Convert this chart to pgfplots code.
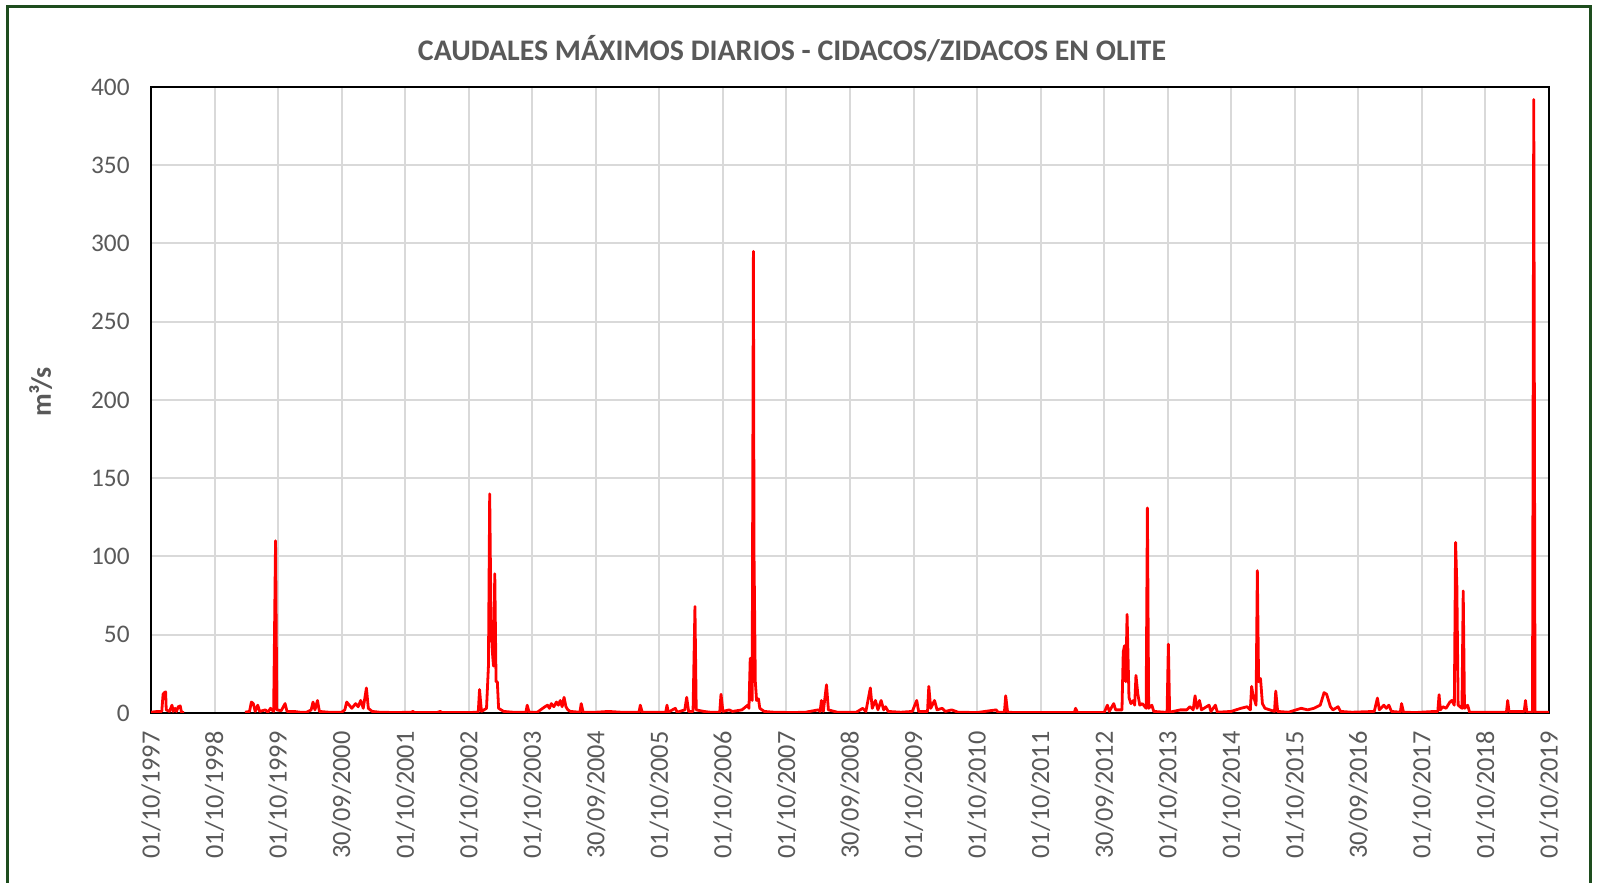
\documentclass[border=0pt]{standalone}
\usepackage{fontspec}
\setmainfont{Carlito}
\usepackage{pgfplots}
\pgfplotsset{compat=1.18}
\definecolor{txtgray}{HTML}{595959}
\definecolor{gridgray}{HTML}{D9D9D9}
\definecolor{framegreen}{HTML}{1E4D1E}
\begin{document}
\begin{tikzpicture}
\path[use as bounding box] (0,0) rectangle (800bp,441.5bp);
\draw[framegreen, line width=1.5bp] (3.8bp,-20bp) rectangle (795.2bp,438bp);
\node[font=\fontsize{15}{17}\selectfont\bfseries, text=txtgray] at (396bp,417bp) {CAUDALES MÁXIMOS DIARIOS - CIDACOS/ZIDACOS EN OLITE};
\begin{axis}[at={(75.5bp,85bp)}, anchor=south west, scale only axis,
  width=699bp, height=313bp,
  xmin=0, xmax=22, ymin=0, ymax=400,
  xtick={0,...,22}, ytick={0,50,...,400},
  xticklabels={01/10/1997,01/10/1998,01/10/1999,30/09/2000,01/10/2001,01/10/2002,01/10/2003,30/09/2004,01/10/2005,01/10/2006,01/10/2007,30/09/2008,01/10/2009,01/10/2010,01/10/2011,30/09/2012,01/10/2013,01/10/2014,01/10/2015,30/09/2016,01/10/2017,01/10/2018,01/10/2019},
  grid=major, major grid style={gridgray, line width=1bp},
  major tick length=0pt, tick style={draw=none},
  axis line style={black, line width=1bp},
  /pgf/number format/assume math mode=true,
  ticklabel style={font=\fontsize{12.7}{14}\selectfont, text=txtgray},
  xticklabel style={rotate=90, anchor=east, inner sep=0pt, font=\fontsize{13.2}{15}\selectfont},
  yticklabel style={anchor=east, inner sep=0pt},
  xticklabel shift=9bp, yticklabel shift=10.5bp,
  ylabel={m³/s},
  ylabel style={font=\fontsize{14}{16}\selectfont\bfseries, text=txtgray, at={(axis description cs:-0.079,0.513)}, anchor=center, rotate=0},
]
\addplot[red, line width=1.4bp, line join=round] coordinates {
(0.00,0.5)(0.10,1)(0.17,1)(0.19,12)(0.21,13)(0.23,13.5)(0.24,2)(0.29,1)(0.33,5)(0.35,1)(0.38,3)(0.40,1)(0.43,4)(0.46,4.5)(0.48,0.5)(0.52,0.3)
};
\addplot[red, line width=1.4bp, line join=round] coordinates {
(1.48,0.5)(1.55,1)(1.58,7)(1.61,6)(1.64,1)(1.68,5)(1.71,1)(1.80,2)(1.84,0.5)(1.88,3)(1.93,1)(1.96,110)(1.98,2)(2.05,1.5)(2.11,6)(2.14,1)(2.25,1)(2.35,0.5)(2.45,0.5)(2.52,2)(2.55,7)(2.58,2)(2.62,8)(2.65,1)(2.80,0.5)(3.00,0.5)(3.05,2)(3.08,7)(3.12,5)(3.16,3)(3.22,6)(3.26,4)(3.30,8)(3.34,3)(3.39,16)(3.42,3)(3.48,1)(3.60,0.5)(3.85,0.3)(4.10,0.5)(4.12,1)(4.15,0.3)(4.50,0.3)(4.55,1)(4.58,0.3)(5.00,0.3)
(5.15,0.5)(5.17,15)(5.20,1)(5.28,3)(5.31,30)(5.33,140)(5.35,60)(5.37,40)(5.39,30)(5.41,89)(5.43,20)(5.45,20)(5.47,3)(5.55,1)(5.70,0.5)(5.90,0.5)(5.92,5)(5.95,0.5)(6.08,0.5)(6.13,2)(6.20,4)(6.24,5)(6.27,3)(6.30,6)(6.34,4)(6.38,7)(6.41,5)(6.44,8)(6.47,4)(6.50,10)(6.53,4)(6.56,2)(6.60,1)(6.75,0.5)(6.77,6)(6.80,0.5)(7.00,0.5)(7.20,1)(7.40,0.5)(7.68,0.5)(7.70,5)(7.73,0.5)(8.00,0.5)
(8.10,0.5)(8.12,5)(8.14,0.5)(8.25,3)(8.28,0.5)(8.40,2)(8.43,10)(8.46,1)(8.53,1)(8.56,68)(8.58,2)(8.70,1)(8.80,0.5)(8.95,0.5)(8.97,12)(9.00,1)(9.10,2)(9.15,1)(9.30,2)(9.39,5)(9.41,3)(9.43,35)(9.46,8)(9.48,295)(9.49,100)(9.51,20)(9.53,8)(9.56,9)(9.58,3)(9.65,1)(9.80,0.5)(10.10,0.3)(10.30,0.5)(10.50,2)(10.53,1)(10.55,8)(10.58,1)(10.63,18)(10.66,2)(10.80,0.5)(11.10,0.5)(11.20,3)(11.25,1)(11.32,16)(11.35,3)(11.40,8)(11.44,2)(11.49,8)(11.53,2)(11.56,4)(11.60,1)(11.80,0.5)
(11.98,1)(12.05,8)(12.08,1)(12.22,1)(12.24,17)(12.27,3)(12.33,8)(12.37,2)(12.45,3)(12.50,1)(12.60,2)(12.70,0.5)(13.00,0.3)(13.30,2)(13.33,0.5)(13.43,0.5)(13.45,11)(13.48,0.5)(13.60,0.3)(14.00,0.3)(14.53,0.3)(14.55,3)(14.58,0.3)(15.00,0.3)
(15.05,5)(15.08,1)(15.15,6)(15.18,2)(15.28,2)(15.30,39)(15.32,43)(15.34,20)(15.36,63)(15.39,10)(15.42,6)(15.46,8)(15.48,5)(15.50,24)(15.53,12)(15.56,5)(15.60,6)(15.66,3)(15.68,131)(15.70,3)(15.75,5)(15.78,1)(15.95,0.5)(15.99,0.5)(16.01,44)(16.03,0.5)(16.20,2)(16.30,2)(16.35,4)(16.40,2)(16.43,11)(16.46,3)(16.50,8)(16.53,2)(16.65,5)(16.68,1)(16.75,5)(16.78,0.5)
(17.00,1)(17.15,3)(17.25,4)(17.30,2)(17.32,17)(17.34,12)(17.39,5)(17.41,91)(17.43,20)(17.46,22)(17.49,6)(17.53,3)(17.68,1)(17.70,14)(17.73,1)(17.90,0.5)(18.10,3)(18.20,2)(18.30,3)(18.40,5)(18.43,9)(18.46,13)(18.50,12)(18.53,8)(18.56,4)(18.60,2)(18.68,4)(18.72,1)(18.90,0.5)
(19.25,1)(19.30,9.5)(19.33,2)(19.40,5)(19.44,3)(19.48,5)(19.52,1)(19.66,0.5)(19.68,6)(19.71,0.5)(19.90,0.3)(20.20,1)(20.25,1)(20.27,11.7)(20.29,2)(20.33,4)(20.38,3)(20.44,7)(20.47,8)(20.51,5)(20.53,109)(20.55,81)(20.57,5)(20.63,3)(20.65,78)(20.67,3)(20.72,5)(20.75,0.5)(21.00,0.5)(21.33,0.5)(21.35,8)(21.37,1)(21.55,1)(21.61,1)(21.63,8)(21.65,0.5)(21.74,0.5)(21.76,392)(21.78,0.5)(22.00,0.5)
};
\end{axis}
\end{tikzpicture}
\end{document}
